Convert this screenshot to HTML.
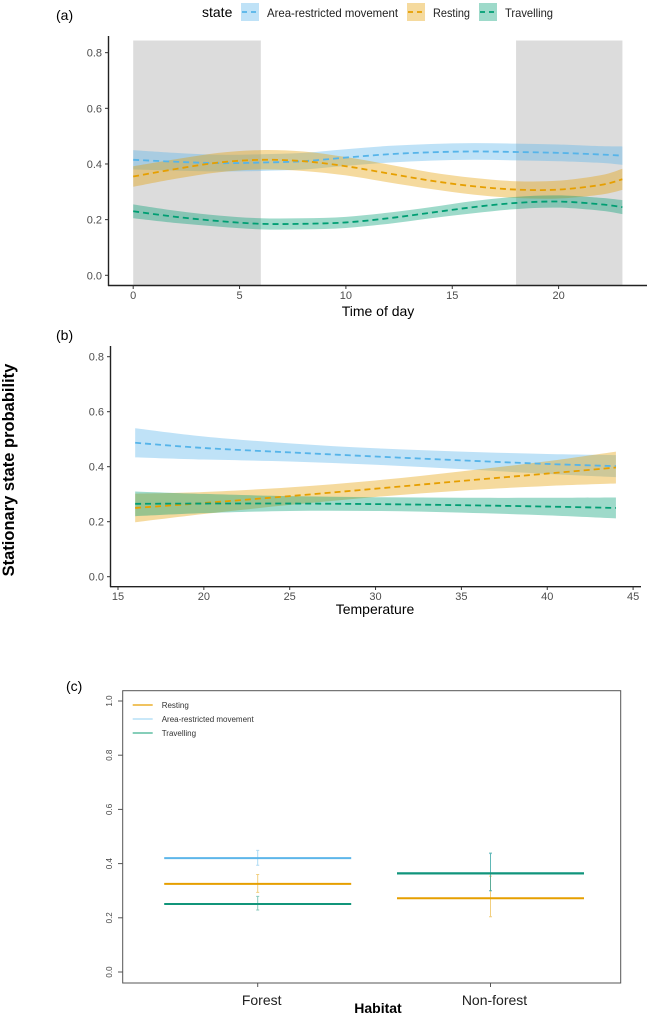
<!DOCTYPE html>
<html><head><meta charset="utf-8"><style>
body{margin:0;background:#fff;}
svg{display:block;font-family:"Liberation Sans",sans-serif;}
</style></head><body>
<svg id="fig" width="648" height="1015" viewBox="0 0 648 1015">
<g id="pa"></g>
<g id="pb"></g>
<g id="pc"></g>
<text x="14" y="470" transform="rotate(-90 14 470)" text-anchor="middle" font-size="16.5" font-weight="bold" fill="#000">Stationary state probability</text>
</svg>
<script>
// Panel (a) data: time of day
const aHours = [0,2,4,6,8,10,12,14,16,18,20,22,23];
const aArm   = [0.415,0.408,0.403,0.405,0.41,0.423,0.435,0.442,0.445,0.443,0.44,0.434,0.43];
const aRest  = [0.355,0.382,0.405,0.415,0.41,0.392,0.366,0.34,0.32,0.308,0.308,0.325,0.345];
const aTrav  = [0.23,0.21,0.195,0.185,0.185,0.19,0.205,0.225,0.245,0.26,0.265,0.255,0.245];
const aArmCI = [0.035,0.032,0.03,0.03,0.03,0.03,0.03,0.03,0.03,0.03,0.03,0.03,0.033];
const aRestCI= [0.037,0.035,0.035,0.035,0.035,0.033,0.032,0.03,0.03,0.03,0.032,0.035,0.038];
const aTravCI= [0.025,0.022,0.02,0.02,0.02,0.02,0.02,0.02,0.022,0.022,0.022,0.023,0.025];
const aXTicks = [0,5,10,15,20];
const yTicks = [0.0,0.2,0.4,0.6,0.8];
const nightBands = [[0,6],[18,23]];
// Panel (b) data: temperature
const bTemp  = [16,20,25,30,35,40,44];
const bArm   = [0.487,0.468,0.452,0.437,0.423,0.41,0.402];
const bRest  = [0.25,0.268,0.293,0.32,0.348,0.375,0.397];
const bTrav  = [0.265,0.266,0.266,0.264,0.26,0.255,0.25];
const bArmCI = [0.053,0.042,0.033,0.03,0.032,0.036,0.04];
const bRestCI= [0.052,0.04,0.032,0.03,0.035,0.045,0.058];
const bTravCI= [0.045,0.035,0.027,0.025,0.027,0.032,0.038];
const bXTicks = [15,20,25,30,35,40,45];
// Panel (c) data: habitat
const cHabitats = ["Forest","Non-forest"];
const cRest = [0.325,0.272];
const cRestLo=[0.294,0.204], cRestHi=[0.36,0.354];
const cArm  = [0.42,0.364];
const cArmLo=[0.394,0.30], cArmHi=[0.449,0.437];
const cTrav = [0.251,0.364];
const cTravLo=[0.229,0.30], cTravHi=[0.279,0.439];
const cYTicks = [0.0,0.2,0.4,0.6,0.8,1.0];

const NS="http://www.w3.org/2000/svg";
function mk(parent,tag,attrs){const e=document.createElementNS(NS,tag);for(const k in attrs)e.setAttribute(k,attrs[k]);parent.appendChild(e);return e;}
const COL={arm:"#56B4E9",rest:"#E69F00",trav:"#009E73"};
function spline(pts){let d="M"+pts[0][0]+","+pts[0][1];for(let i=0;i<pts.length-1;i++){const p0=pts[i-1]||pts[i],p1=pts[i],p2=pts[i+1],p3=pts[i+2]||p2;
const c1=[p1[0]+(p2[0]-p0[0])/6,p1[1]+(p2[1]-p0[1])/6],c2=[p2[0]-(p3[0]-p1[0])/6,p2[1]-(p3[1]-p1[1])/6];
d+=" C"+c1[0]+","+c1[1]+" "+c2[0]+","+c2[1]+" "+p2[0]+","+p2[1];}return d;}
function band(g,xs,ys,ci,X,Y,col,name){
 const up=xs.map((x,i)=>[X(x),Y(ys[i]+ci[i])]);const lo=xs.map((x,i)=>[X(x),Y(ys[i]-ci[i])]).reverse();
 let d=spline(up)+" L"+lo[0][0]+","+lo[0][1]+spline(lo).slice(spline(lo).indexOf(" "))+" Z";
 const p=mk(g,"path",{d:d,fill:col,"fill-opacity":0.38,stroke:"none"});
 
 
}
function line(g,xs,ys,X,Y,col,name){
 const p=mk(g,"path",{d:spline(xs.map((x,i)=>[X(x),Y(ys[i])])),fill:"none",stroke:col,"stroke-width":1.8,"stroke-dasharray":"6,4"});
 
 
}
function txt(g,x,y,s,attrs){const t=mk(g,"text",Object.assign({x:x,y:y},attrs));t.textContent=s;return t;}

// ---------- Panel a ----------
(function(){
 const g=document.getElementById("pa");
 const X=h=>133.2+h*21.27, Y=v=>275.3-v*278.3;
 nightBands.forEach(b=>{const r=mk(g,"rect",{x:X(b[0]),y:40.5,width:X(b[1])-X(b[0]),height:285.3-40.5,fill:"#dcdcdc"});
  
  });
 band(g,aHours,aArm,aArmCI,X,Y,COL.arm,"arm");
 band(g,aHours,aRest,aRestCI,X,Y,COL.rest,"resting");
 band(g,aHours,aTrav,aTravCI,X,Y,COL.trav,"travelling");
 line(g,aHours,aArm,X,Y,COL.arm,"arm");
 line(g,aHours,aRest,X,Y,COL.rest,"resting");
 line(g,aHours,aTrav,X,Y,COL.trav,"travelling");
 mk(g,"line",{x1:108.5,y1:36,x2:108.5,y2:286,stroke:"#222","stroke-width":1.4});
 mk(g,"line",{x1:108,y1:285.5,x2:647,y2:285.5,stroke:"#222","stroke-width":1.4});
 yTicks.forEach(v=>{mk(g,"line",{x1:105,y1:Y(v),x2:108.5,y2:Y(v),stroke:"#333"});
  const t=txt(g,102,Y(v)+4,v.toFixed(1),{"text-anchor":"end","font-size":11,fill:"#4d4d4d"});
  
  });
 aXTicks.forEach(v=>{mk(g,"line",{x1:X(v),y1:285.5,x2:X(v),y2:289,stroke:"#333"});
  const t=txt(g,X(v),299,String(v),{"text-anchor":"middle","font-size":11,fill:"#4d4d4d"});
  
  });
 txt(g,378,316,"Time of day",{"text-anchor":"middle","font-size":14,fill:"#000"});
 txt(g,56,20,"(a)",{"font-size":14,fill:"#000"});
 // legend
 const lg=mk(g,"g",{});
 
 
 txt(lg,202,17,"state",{"font-size":14,fill:"#000"});
 const keys=[[241,COL.arm,267,"Area-restricted  movement",131],[407,COL.rest,433,"Resting",37],[479,COL.trav,505,"Travelling",48]];
 keys.forEach(k=>{const e=mk(lg,"g",{});
  
  
  mk(e,"rect",{x:k[0],y:3,width:18,height:18,fill:k[1],"fill-opacity":0.38});
  mk(e,"line",{x1:k[0]+1,y1:12,x2:k[0]+17,y2:12,stroke:k[1],"stroke-width":1.8,"stroke-dasharray":"5,4"});
  txt(e,k[2],17,k[3],{"font-size":12,fill:"#222",textLength:k[4],lengthAdjust:"spacingAndGlyphs"});});
})();

// ---------- Panel b ----------
(function(){
 const g=document.getElementById("pb");
 const X=t=>118+(t-15)*17.17, Y=v=>576.7-v*275;
 band(g,bTemp,bArm,bArmCI,X,Y,COL.arm,"arm");
 band(g,bTemp,bRest,bRestCI,X,Y,COL.rest,"resting");
 band(g,bTemp,bTrav,bTravCI,X,Y,COL.trav,"travelling");
 line(g,bTemp,bArm,X,Y,COL.arm,"arm");
 line(g,bTemp,bRest,X,Y,COL.rest,"resting");
 line(g,bTemp,bTrav,X,Y,COL.trav,"travelling");
 mk(g,"line",{x1:110.5,y1:346,x2:110.5,y2:587,stroke:"#222","stroke-width":1.4});
 mk(g,"line",{x1:110,y1:586.7,x2:641,y2:586.7,stroke:"#222","stroke-width":1.4});
 yTicks.forEach(v=>{mk(g,"line",{x1:107,y1:Y(v),x2:110.5,y2:Y(v),stroke:"#333"});
  const t=txt(g,104,Y(v)+4,v.toFixed(1),{"text-anchor":"end","font-size":11,fill:"#4d4d4d"});
  
  });
 bXTicks.forEach(v=>{mk(g,"line",{x1:X(v),y1:586.7,x2:X(v),y2:590,stroke:"#333"});
  const t=txt(g,X(v),600,String(v),{"text-anchor":"middle","font-size":11,fill:"#4d4d4d"});
  
  });
 txt(g,375,614,"Temperature",{"text-anchor":"middle","font-size":14,fill:"#000"});
 txt(g,56,340,"(b)",{"font-size":14,fill:"#000"});
})();

// ---------- Panel c ----------
(function(){
 const g=document.getElementById("pc");
 const xc=[257.7,490.5], hw=93.5;
 const Y=v=>972-v*271;
 mk(g,"rect",{x:122.7,y:690.7,width:498,height:292.3,fill:"none",stroke:"#555","stroke-width":1});
 cYTicks.forEach(v=>{mk(g,"line",{x1:118,y1:Y(v),x2:122.7,y2:Y(v),stroke:"#555"});
  const t=txt(g,112,Y(v),v.toFixed(1),{"text-anchor":"middle","font-size":8,fill:"#444",transform:"rotate(-90 112 "+Y(v)+")"});
  
  });
 const series=[["resting",cRest,cRestLo,cRestHi,COL.rest],["arm",cArm,cArmLo,cArmHi,"#5DB6EA"],["travelling",cTrav,cTravLo,cTravHi,"#11957A"]];
 cHabitats.forEach((h,i)=>{
  mk(g,"line",{x1:xc[i],y1:983,x2:xc[i],y2:987,stroke:"#555"});
  const t=txt(g,xc[i]+4,1005,h,{"text-anchor":"middle","font-size":14,fill:"#222"});
  
  
 });
 series.forEach(s=>{cHabitats.forEach((h,i)=>{
  const l=mk(g,"line",{x1:xc[i]-hw,y1:Y(s[1][i]),x2:xc[i]+hw,y2:Y(s[1][i]),stroke:s[4],"stroke-width":2});
  
  
  const e=mk(g,"path",{d:"M"+xc[i]+","+Y(s[2][i])+"V"+Y(s[3][i])+"M"+(xc[i]-1.5)+","+Y(s[2][i])+"h3M"+(xc[i]-1.5)+","+Y(s[3][i])+"h3",stroke:s[4],"stroke-opacity":0.5,"stroke-width":1,fill:"none"});
  
  
 });});
 const lt=mk(g,"line",{x1:xc[1]-hw,y1:Y(cTrav[1]),x2:xc[1]+hw,y2:Y(cTrav[1]),stroke:"#11957A","stroke-width":2});
 
 
 txt(g,378,1013,"Habitat",{"text-anchor":"middle","font-size":14,"font-weight":"bold",fill:"#000"});
 txt(g,66,691,"(c)",{"font-size":14,fill:"#000"});
 const lg=mk(g,"g",{});
 
 
 [["Resting",COL.rest,705],["Area-restricted movement","#A9DBF5",719],["Travelling","#3DB08F",733]].forEach(k=>{
  const e=mk(lg,"g",{});
  
  
  mk(e,"line",{x1:132.7,y1:k[2],x2:152.7,y2:k[2],stroke:k[1],"stroke-width":1.2});
  txt(e,161.7,k[2]+3,k[0],{"font-size":8,fill:"#333"});
 });
})();
</script>
</body></html>
